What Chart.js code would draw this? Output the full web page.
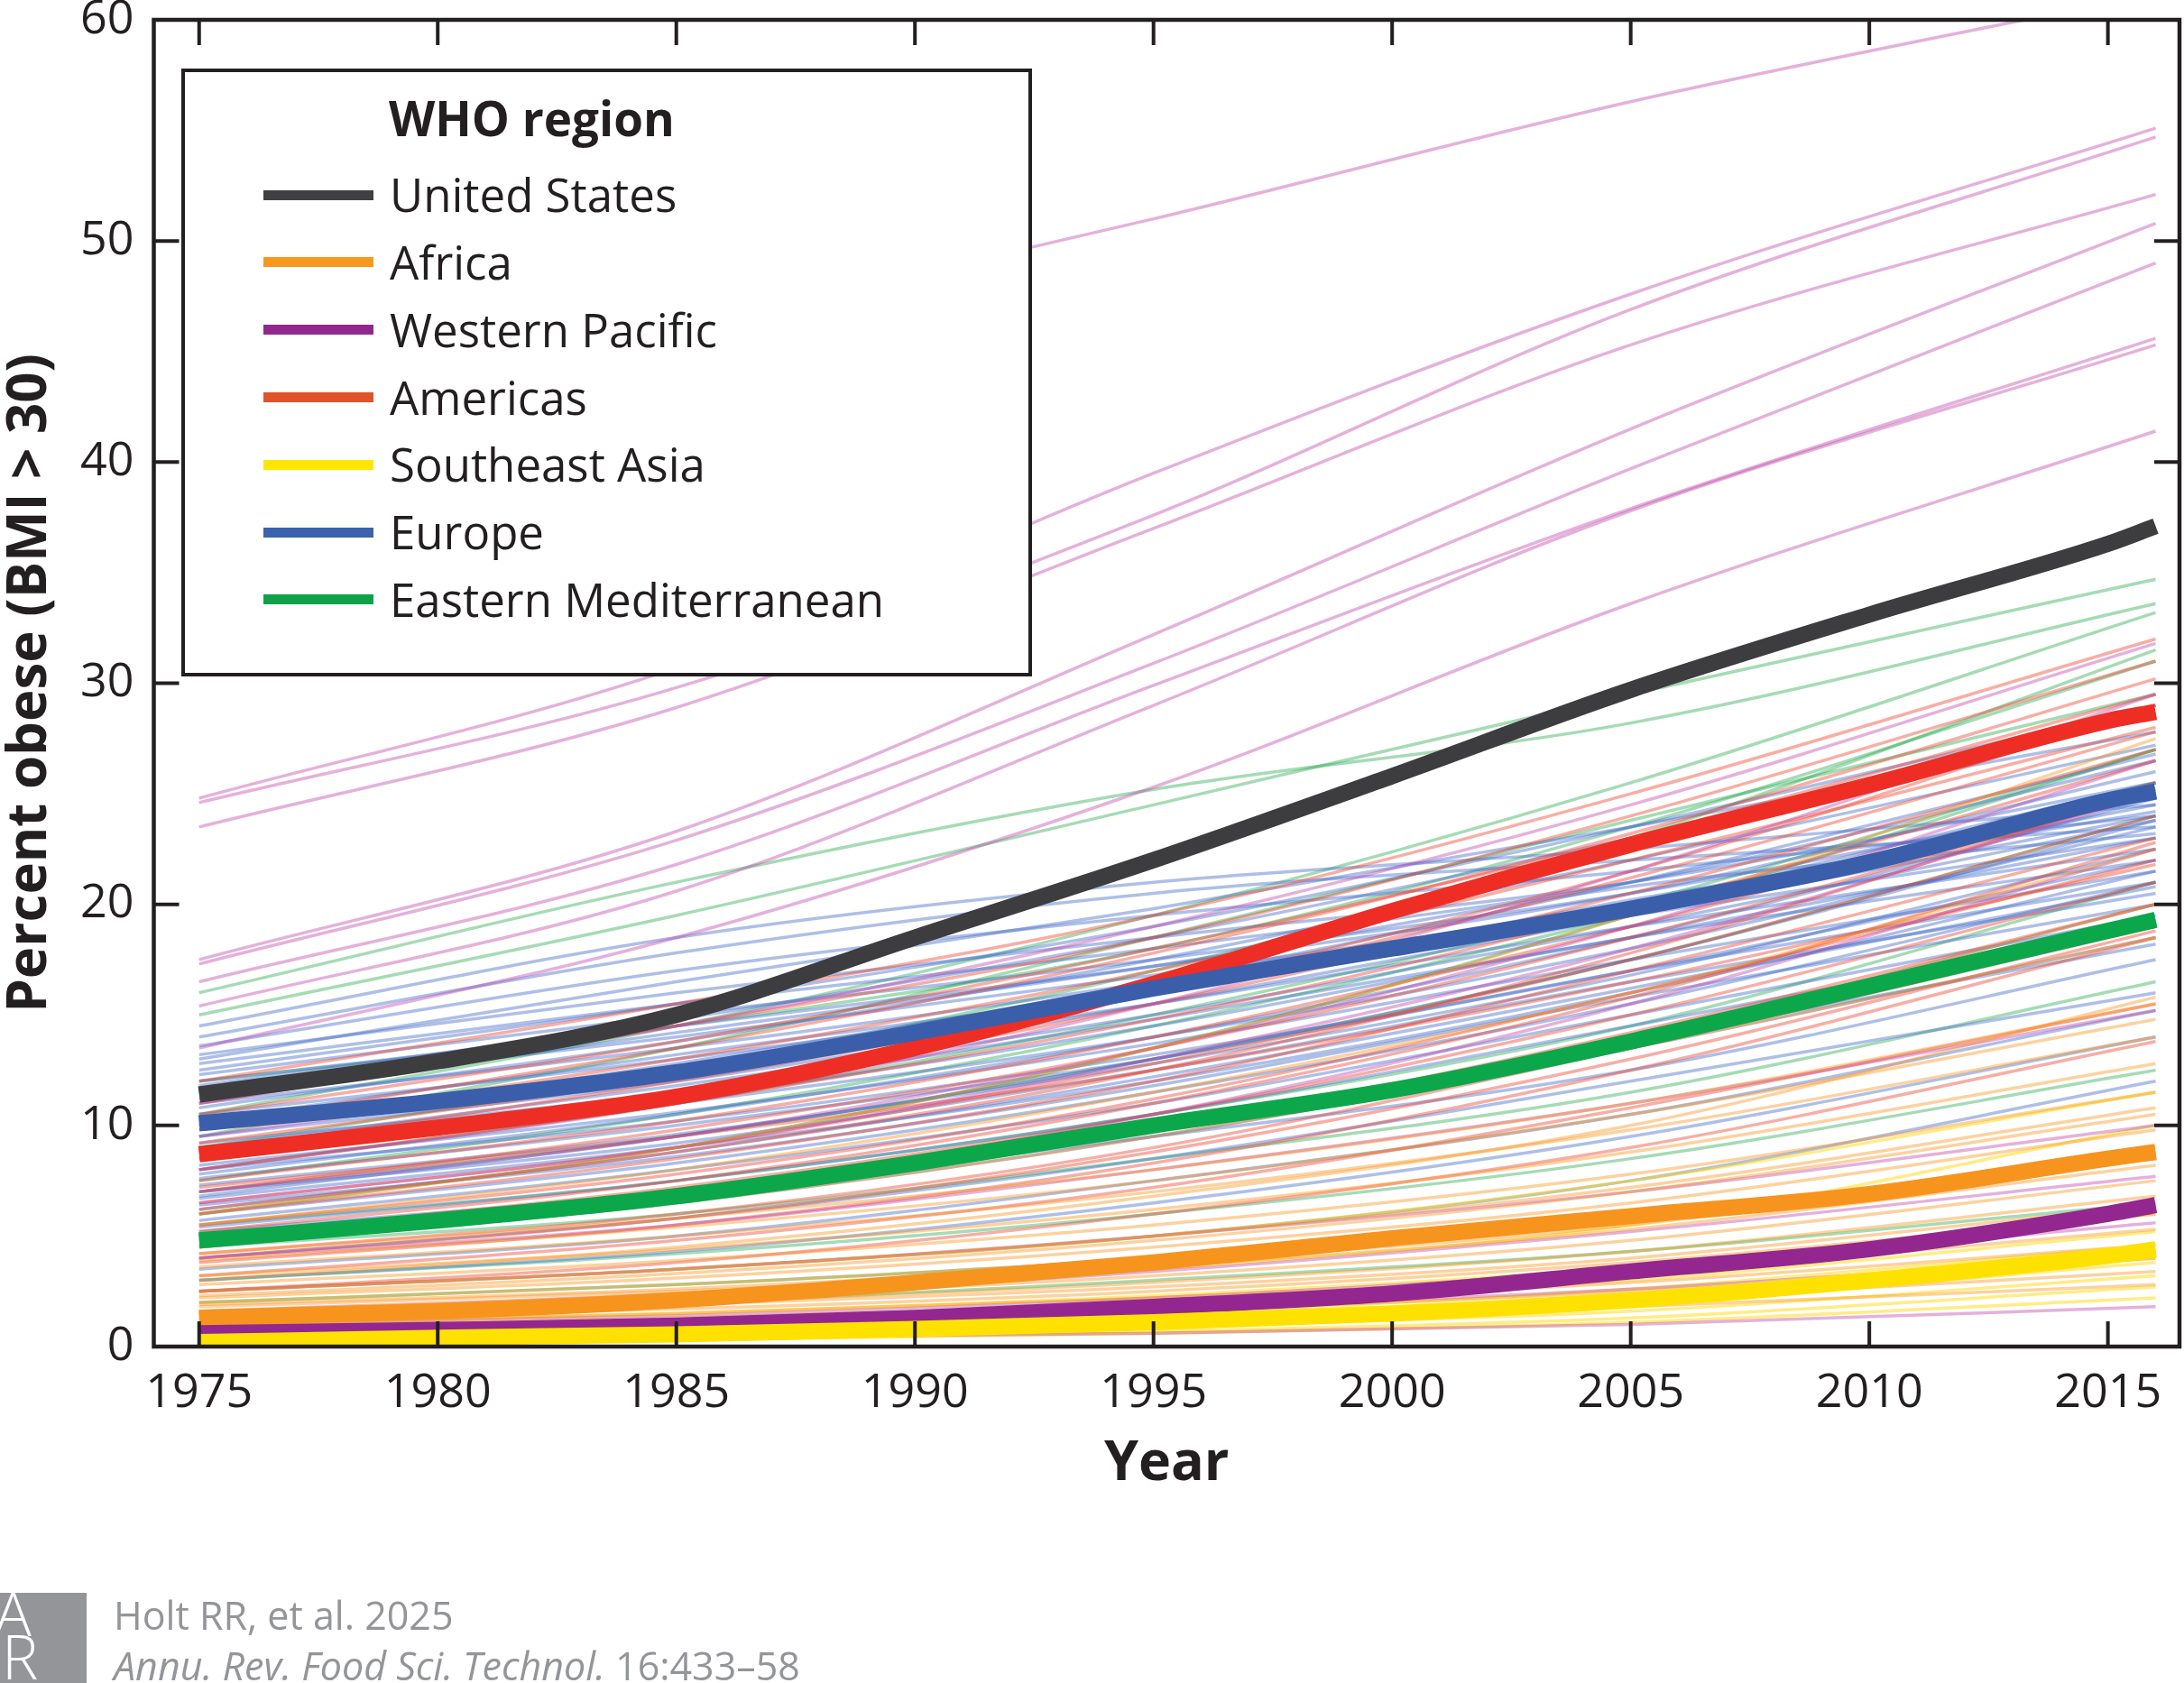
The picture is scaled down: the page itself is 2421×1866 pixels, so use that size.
<!DOCTYPE html>
<html>
<head>
<meta charset="utf-8">
<title>Percent obese by WHO region</title>
<script src="https://cdn.jsdelivr.net/npm/chart.js@4.4.0/dist/chart.umd.min.js"></script>
<style>
    html, body { margin: 0; padding: 0; background: #fff; }
    body { position: relative; width: 2421px; height: 1866px; overflow: hidden; font-family: "Open Sans", sans-serif; color: #231f20; }
    #chart { position: absolute; left: 0; top: 0; }
    #legend { position: absolute; left: 201px; top: 76px; width: 943px; height: 674px; box-sizing: border-box; border: 4.5px solid #231f20; background: #fff; }
    .legend-title { position: absolute; left: 431px; top: 104px; font-size: 53px; line-height: 53px; font-weight: 700; white-space: nowrap; }
    .legend-item { position: absolute; left: 432px; font-size: 51px; line-height: 51px; white-space: nowrap; }
    .legend-swatch { position: absolute; left: 292px; width: 122px; height: 11px; }
    .cite { position: absolute; left: 126px; font-size: 43px; line-height: 43px; color: #939598; white-space: nowrap; }
    #logo { position: absolute; left: 0; top: 1766px; width: 96px; height: 100px; background: #939598; overflow: hidden; }
    #logo span { position: absolute; color: #fff; font-family: "Open Sans", sans-serif; font-weight: 300; font-size: 68px; line-height: 68px; }
</style>
</head>
<body>
<canvas id="chart" width="2421" height="1866"></canvas>

<div id="legend"></div>
<div class="legend-title">WHO region</div>
<div id="legendRows"></div>

<div id="logo"><span style="left:-6px; top:-12px;">A</span><span style="left:2px; top:36px;">R</span></div>
<div class="cite" style="top:1769px;">Holt RR, et al. 2025</div>
<div class="cite" style="top:1825px;"><i>Annu. Rev. Food Sci. Technol.</i> 16:433–58</div>

<script>
// years for the regional means (thick lines)
const regionYears = [1975, 1980, 1985, 1990, 1995, 2000, 2005, 2010, 2015, 2016];

const unitedStates = [11.4, 12.9, 15.0, 18.5, 22.0, 25.8, 29.7, 33.1, 36.3, 37.1];
const africa = [1.3, 1.6, 2.1, 2.9, 3.8, 4.9, 5.9, 6.9, 8.5, 8.8];
const westernPacific = [0.6, 0.75, 0.95, 1.3, 1.8, 2.4, 3.4, 4.4, 6.0, 6.4];
const americas = [8.7, 9.9, 11.3, 13.5, 16.4, 19.7, 22.7, 25.4, 28.3, 28.7];
const southeastAsia = [0.2, 0.4, 0.55, 0.8, 1.1, 1.5, 2.1, 3.0, 4.1, 4.4];
const europe = [10.1, 11.1, 12.4, 14.2, 16.2, 18.0, 19.8, 21.9, 24.7, 25.1];
const easternMed = [4.8, 5.7, 6.8, 8.3, 10.0, 11.6, 13.8, 16.3, 18.8, 19.3];

// years for the single countries (thin lines)
const countryYears = [1975, 1985, 1995, 2005, 2016];

const wpacCountries = [
    [41.0, 46.0, 51.0, 56.3, 61.2],
    [24.8, 30.7, 39.5, 47.6, 55.1],
    [24.6, 29.8, 37.6, 46.9, 54.7],
    [23.5, 28.9, 37.0, 45.3, 52.1],
    [17.5, 23.3, 32.2, 41.5, 50.8],
    [17.3, 22.9, 30.9, 39.7, 49.0],
    [16.5, 21.8, 29.9, 37.9, 45.6],
    [15.4, 20.6, 29.0, 37.8, 45.3],
    [13.5, 18.5, 25.3, 33.6, 41.4],
    [11.0, 14.5, 19.0, 24.5, 31.8],
    [9.5, 12.5, 16.5, 22.5, 29.0],
    [8.0, 11.0, 15.5, 21.5, 29.5],
    [7.0, 9.5, 13.5, 19.0, 26.5],
    [6.5, 9.0, 13.0, 18.0, 25.0],
    [5.0, 7.0, 10.5, 15.5, 22.5],
    [4.0, 5.5, 8.0, 11.0, 15.2],
    [2.5, 3.5, 5.0, 7.0, 10.0],
    [1.5, 2.2, 3.4, 5.2, 7.7],
    [1.0, 1.4, 2.2, 3.5, 5.6],
    [0.8, 1.1, 1.7, 2.6, 4.2],
    [0.3, 0.4, 0.6, 1.0, 1.8]
];

const emedCountries = [
    [16.0, 21.0, 25.2, 28.2, 33.6],
    [15.0, 19.5, 24.5, 29.5, 34.7],
    [12.0, 14.5, 18.0, 23.5, 31.0],
    [10.5, 14.5, 19.5, 25.5, 33.2],
    [9.5, 13.5, 18.5, 23.8, 29.5],
    [9.0, 12.5, 17.0, 23.0, 31.5],
    [8.0, 11.0, 15.0, 20.0, 27.0],
    [7.5, 10.5, 14.5, 19.5, 25.5],
    [7.0, 9.5, 13.0, 17.5, 24.0],
    [6.0, 9.0, 13.5, 19.5, 27.0],
    [5.5, 7.5, 10.5, 14.5, 21.0],
    [4.5, 6.0, 8.5, 11.5, 16.5],
    [3.0, 4.2, 6.0, 8.5, 12.5],
    [2.0, 2.8, 4.0, 5.8, 8.6],
    [1.5, 2.0, 3.0, 4.3, 6.5]
];

const europeCountries = [
    [14.5, 18.5, 21.0, 22.5, 24.5],
    [14.0, 17.8, 20.5, 22.0, 23.5],
    [13.6, 17.0, 19.5, 21.5, 24.0],
    [13.2, 16.0, 18.5, 21.0, 25.5],
    [13.0, 16.5, 19.8, 23.5, 27.8],
    [12.8, 15.5, 18.0, 21.0, 26.5],
    [12.5, 15.5, 19.0, 23.5, 29.0],
    [12.3, 15.0, 17.5, 20.5, 25.0],
    [12.0, 14.5, 17.2, 20.5, 26.0],
    [11.8, 14.8, 18.5, 23.0, 28.5],
    [11.5, 14.0, 16.8, 20.0, 24.5],
    [11.2, 14.2, 17.2, 20.8, 23.2],
    [11.0, 13.5, 16.5, 20.0, 25.5],
    [10.8, 13.8, 17.5, 22.0, 27.2],
    [10.5, 13.0, 16.0, 19.5, 23.0],
    [10.2, 13.2, 16.2, 20.2, 24.2],
    [10.0, 12.5, 15.5, 19.0, 22.5],
    [9.8, 12.8, 16.5, 21.0, 26.8],
    [9.5, 12.0, 15.5, 19.5, 24.0],
    [9.2, 11.5, 14.8, 18.5, 23.0],
    [9.0, 11.8, 15.0, 19.0, 23.8],
    [8.8, 11.2, 14.5, 18.5, 22.0],
    [8.5, 11.0, 14.0, 18.0, 23.5],
    [8.2, 10.6, 13.7, 17.5, 21.5],
    [8.0, 10.2, 13.2, 17.0, 22.0],
    [7.8, 10.5, 14.0, 18.5, 24.8],
    [7.6, 10.0, 13.0, 17.0, 21.0],
    [7.3, 9.6, 12.8, 16.8, 22.5],
    [7.0, 9.2, 12.5, 16.5, 20.5],
    [6.8, 9.5, 13.0, 17.5, 23.8],
    [6.7, 9.0, 12.0, 16.0, 21.5],
    [6.4, 8.6, 11.8, 15.8, 20.0],
    [6.2, 8.8, 12.2, 16.2, 20.8],
    [6.0, 8.3, 11.5, 15.5, 21.0],
    [5.7, 8.0, 11.0, 15.0, 19.5],
    [5.4, 7.5, 10.5, 14.5, 19.0],
    [5.2, 7.0, 9.5, 12.5, 17.5],
    [5.0, 7.0, 10.0, 14.0, 20.0],
    [4.8, 6.8, 9.8, 13.8, 18.2],
    [4.5, 6.5, 9.5, 13.5, 18.5],
    [4.0, 5.8, 8.5, 12.0, 16.0],
    [3.5, 5.0, 7.5, 10.5, 15.2],
    [3.0, 4.3, 6.5, 9.5, 14.0],
    [2.5, 3.5, 5.0, 7.5, 12.0]
];

const americasCountries = [
    [12.0, 15.5, 19.5, 25.0, 32.0],
    [11.0, 14.5, 18.5, 24.0, 31.0],
    [10.5, 13.8, 18.0, 23.0, 29.5],
    [10.0, 13.5, 17.8, 23.2, 30.2],
    [9.8, 13.0, 17.0, 22.0, 28.0],
    [9.2, 12.2, 16.2, 21.5, 29.0],
    [8.8, 12.0, 16.0, 21.2, 27.8],
    [8.5, 11.5, 15.5, 20.5, 27.0],
    [8.0, 11.0, 14.8, 19.8, 26.5],
    [7.5, 10.2, 14.0, 19.0, 25.5],
    [7.2, 9.5, 12.5, 16.5, 21.8],
    [7.0, 9.8, 13.5, 18.5, 25.0],
    [6.5, 9.0, 12.8, 17.5, 24.0],
    [6.2, 8.8, 12.5, 17.8, 25.2],
    [6.0, 8.5, 12.0, 17.0, 23.0],
    [5.5, 7.8, 11.2, 16.0, 22.0],
    [5.2, 7.5, 11.0, 15.8, 22.8],
    [5.0, 7.2, 10.5, 15.0, 21.0],
    [4.6, 6.6, 9.8, 14.2, 20.0],
    [4.2, 6.0, 9.0, 13.5, 19.0],
    [4.0, 5.8, 8.8, 13.0, 18.8],
    [3.8, 5.5, 8.3, 12.5, 18.5],
    [3.2, 4.8, 7.2, 10.8, 15.5],
    [2.5, 3.8, 6.0, 9.0, 13.8],
    [1.6, 2.4, 3.8, 5.8, 8.5]
];

const africaCountries = [
    [6.0, 9.0, 13.5, 19.5, 27.5],
    [5.5, 8.0, 11.5, 16.0, 22.5],
    [5.0, 7.0, 10.0, 14.0, 20.0],
    [4.5, 6.5, 9.5, 13.5, 18.5],
    [4.2, 5.8, 8.0, 11.0, 15.5],
    [3.9, 5.4, 7.5, 10.5, 14.8],
    [3.6, 5.0, 7.0, 9.8, 14.0],
    [3.2, 4.4, 6.2, 8.8, 12.8],
    [3.0, 4.5, 6.8, 10.0, 15.8],
    [2.8, 3.9, 5.5, 7.8, 11.5],
    [2.5, 3.5, 5.0, 7.2, 10.8],
    [2.3, 3.3, 4.8, 7.0, 10.5],
    [2.2, 3.1, 4.5, 6.5, 9.8],
    [2.0, 2.8, 4.0, 5.8, 9.0],
    [1.9, 2.6, 3.8, 5.5, 8.8],
    [1.8, 2.5, 3.6, 5.3, 8.2],
    [1.6, 2.2, 3.2, 4.8, 7.5],
    [1.4, 2.0, 2.9, 4.3, 6.8],
    [1.3, 1.9, 2.7, 4.0, 6.4],
    [1.2, 1.7, 2.5, 3.8, 6.0],
    [1.0, 1.5, 2.2, 3.3, 5.3],
    [0.9, 1.3, 1.9, 2.9, 4.6],
    [0.7, 1.0, 1.6, 2.5, 4.0],
    [0.6, 0.9, 1.3, 2.1, 3.4],
    [0.5, 0.7, 1.1, 1.8, 2.8]
];

const seasiaCountries = [
    [2.5, 3.5, 5.0, 7.5, 11.5],
    [1.5, 2.2, 3.5, 5.5, 10.0],
    [1.0, 1.5, 2.3, 3.6, 6.0],
    [0.8, 1.2, 1.9, 3.0, 5.2],
    [0.6, 0.9, 1.5, 2.6, 4.6],
    [0.5, 0.8, 1.3, 2.2, 4.0],
    [0.4, 0.6, 1.0, 1.9, 3.8],
    [0.3, 0.5, 0.9, 1.6, 3.2],
    [0.25, 0.4, 0.7, 1.3, 2.7],
    [0.2, 0.3, 0.6, 1.1, 2.2]
];

const xTicks = [1975, 1980, 1985, 1990, 1995, 2000, 2005, 2010, 2015];
const yTicks = [0, 10, 20, 30, 40, 50, 60];

const regions = [
    { label: 'United States', values: unitedStates, color: '#3d3d3f', swatch: '#404042', countries: [] },
    { label: 'Africa', values: africa, color: '#f7941d', swatch: '#f7991f', countries: africaCountries, thin: 'rgba(247,148,29,0.42)' },
    { label: 'Western Pacific', values: westernPacific, color: '#93278f', swatch: '#92278f', countries: wpacCountries, thin: 'rgba(190,70,170,0.42)' },
    { label: 'Americas', values: americas, color: '#ee2e24', swatch: '#e1522a', countries: americasCountries, thin: 'rgba(236,70,50,0.44)' },
    { label: 'Southeast Asia', values: southeastAsia, color: '#ffe100', swatch: '#ffe600', countries: seasiaCountries, thin: 'rgba(255,215,0,0.48)' },
    { label: 'Europe', values: europe, color: '#3b5eab', swatch: '#3c62ad', countries: europeCountries, thin: 'rgba(70,110,200,0.44)' },
    { label: 'Eastern Mediterranean', values: easternMed, color: '#0ca74a', swatch: '#0fa14a', countries: emedCountries, thin: 'rgba(30,165,70,0.40)' }
];

function toPoints(years, values) {
    return years.map((yr, i) => ({ x: yr, y: values[i] }));
}

// legend rows (html, drawn over the plot like the original box)
const rows = document.getElementById('legendRows');
regions.forEach((r, i) => {
    const base = 235.5 + i * 74.8;
    const sw = document.createElement('div');
    sw.className = 'legend-swatch';
    sw.style.top = (base - 25) + 'px';
    sw.style.background = r.swatch;
    rows.appendChild(sw);
    const txt = document.createElement('div');
    txt.className = 'legend-item';
    txt.style.top = (base - 45.3) + 'px';
    txt.textContent = r.label;
    rows.appendChild(txt);
});

const datasets = [];
regions.forEach((r) => {
    r.countries.forEach((c) => {
        datasets.push({
            data: toPoints(countryYears, c),
            borderColor: r.thin,
            borderWidth: 3.5,
            order: 1
        });
    });
});
regions.slice().reverse().forEach((r) => {
    datasets.push({
        label: r.label,
        data: toPoints(regionYears, r.values),
        borderColor: r.color,
        borderWidth: 18,
        order: 0
    });
});

const framePlugin = {
    id: 'frame',
    afterDraw(chart) {
        const { ctx, chartArea: a, scales: { x, y } } = chart;
        ctx.save();
        ctx.strokeStyle = '#231f20';
        ctx.lineWidth = 4;
        ctx.beginPath();
        xTicks.forEach((v) => {
            const px = x.getPixelForValue(v);
            ctx.moveTo(px, a.bottom);
            ctx.lineTo(px, a.bottom - 28);
            ctx.moveTo(px, a.top);
            ctx.lineTo(px, a.top + 28);
        });
        yTicks.forEach((v) => {
            if (v === 0 || v === 60) return;
            const py = y.getPixelForValue(v);
            ctx.moveTo(a.left, py);
            ctx.lineTo(a.left + 28, py);
            ctx.moveTo(a.right, py);
            ctx.lineTo(a.right - 28, py);
        });
        ctx.stroke();
        ctx.lineWidth = 4.5;
        ctx.strokeRect(a.left, a.top, a.right - a.left, a.bottom - a.top);
        ctx.restore();
    }
};

function draw() {
    Chart.defaults.font.family = '"Open Sans", sans-serif';
    Chart.defaults.color = '#231f20';
    new Chart(document.getElementById('chart').getContext('2d'), {
        type: 'line',
        data: { datasets: datasets },
        options: {
            responsive: false,
            animation: false,
            devicePixelRatio: 1,
            layout: { padding: { left: 0, right: 5, top: 22, bottom: 209 } },
            elements: {
                point: { radius: 0 },
                line: { cubicInterpolationMode: 'monotone', borderCapStyle: 'butt', borderJoinStyle: 'round' }
            },
            plugins: { legend: { display: false }, tooltip: { enabled: false } },
            scales: {
                x: {
                    type: 'linear',
                    min: 1974.05,
                    max: 2016.5,
                    afterBuildTicks: (s) => { s.ticks = xTicks.map((v) => ({ value: v })); },
                    afterFit: (s) => { s.height = 164; s.paddingLeft = 0; s.paddingRight = 0; },
                    grid: { display: false },
                    border: { display: false },
                    ticks: { padding: 13, maxRotation: 0, font: { size: 52 }, callback: (v) => String(v) },
                    title: { display: true, text: 'Year', font: { size: 61, weight: 'bold', lineHeight: 1.1 }, padding: 0 }
                },
                y: {
                    min: 0,
                    max: 60,
                    afterBuildTicks: (s) => { s.ticks = yTicks.map((v) => ({ value: v })); },
                    afterFit: (s) => { s.width = 170.5; s.paddingTop = 0; s.paddingBottom = 0; },
                    grid: { display: false },
                    border: { display: false },
                    ticks: { padding: 14, font: { size: 52 } },
                    title: { display: true, text: 'Percent obese (BMI > 30)', font: { size: 60, weight: 'bold', lineHeight: 1.1 }, padding: { top: 1, bottom: 0 } }
                }
            }
        },
        plugins: [framePlugin]
    });
}

Promise.all([
    document.fonts.load('52px "Open Sans"'),
    document.fonts.load('bold 60px "Open Sans"')
]).then(draw, draw);
</script>
</body>
</html>
